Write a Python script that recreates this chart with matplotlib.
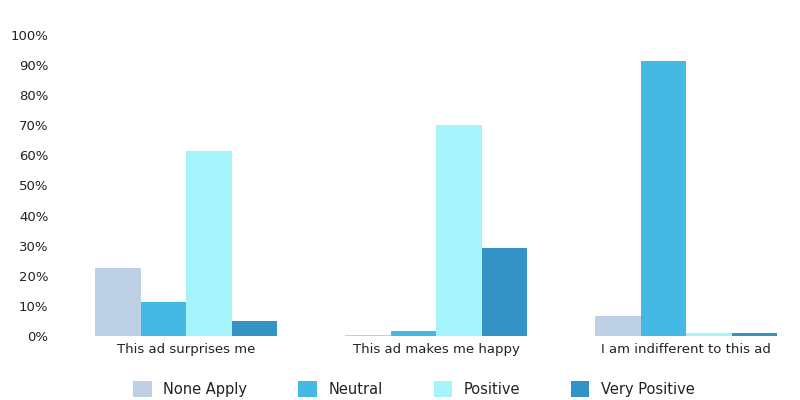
import numpy as np
import matplotlib.pyplot as plt

categories = ["This ad surprises me", "This ad makes me happy", "I am indifferent to this ad"]
series = ["None Apply", "Neutral", "Positive", "Very Positive"]
none_apply = [22.5, 0.3, 6.6]
neutral = [11.3, 1.5, 91.5]
positive = [61.5, 70.0, 1.0]
very_positive = [5.0, 29.3, 1.0]
colors = ["#BDD0E5", "#45B9E6", "#A5F4FC", "#3393C6"]

values = [none_apply, neutral, positive, very_positive]

fig = plt.figure(figsize=(8, 4), dpi=100)
# axes placed in pixel terms: x from 61 to 800, y from 336 (0%) to 35 (100%)
ax = fig.add_axes([61 / 800, 1 - 336 / 400, (800 - 61) / 800, (336 - 35) / 400])

x = np.arange(len(categories))
w = 0.182
for i, (name, vals) in enumerate(zip(series, values)):
    ax.bar(x + (i - 1.5) * w, vals, w, color=colors[i], label=name)

ax.set_xlim(-0.5, 2.456)
ax.set_ylim(0, 100)
ax.set_yticks(np.arange(0, 101, 10))
ax.set_yticklabels([f"{v}%" for v in range(0, 101, 10)])
ax.set_xticks(x)
ax.set_xticklabels(categories)
ax.tick_params(length=0)
ax.tick_params(axis="y", labelsize=9.5, labelcolor="#222222", pad=9)
ax.tick_params(axis="x", labelsize=9.5, labelcolor="#222222", pad=5)
for s in ax.spines.values():
    s.set_visible(False)

leg = fig.legend(loc="center", bbox_to_anchor=(0.5175, 1 - 389 / 400), ncol=4,
                 frameon=False, fontsize=10.5, handlelength=1.25, handleheight=1.25,
                 columnspacing=3.5, handletextpad=0.8)
for t in leg.get_texts():
    t.set_color("#222222")

fig.savefig("out.png", dpi=100)
